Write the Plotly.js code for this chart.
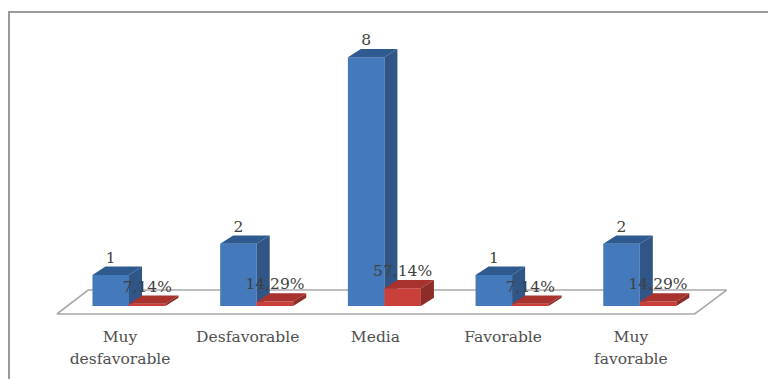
<!DOCTYPE html>
<html>
<head>
<meta charset="utf-8">
<script src="https://cdn.plot.ly/plotly-3.0.1.min.js"></script>
<style>html,body{margin:0;padding:0;background:#fff}#chart{width:768px;height:379px}</style>
</head>
<body>
<div id="chart"></div>
<script>
// Respondent counts and their share per rating
const labelLine1 = ['Muy', 'Desfavorable', 'Media', 'Favorable', 'Muy'];
const labelLine2 = ['desfavorable', '', '', '', 'favorable'];
const counts = [1, 2, 8, 1, 2];
const shares = [0.0714, 0.1429, 0.5714, 0.0714, 0.1429];
const shareLabels = ['7,14%', '14,29%', '57,14%', '7,14%', '14,29%'];

// Pseudo-3D column look, in axis units
const barWidth = 0.286, depthX = 0.102, depthY = 0.267;
const xRange = [-1.0102, 5.004], yRange = [-2.347, 9.839];
const idx = counts.map((_, i) => i);
const fontFamily = '"DejaVu Serif", serif';

// Parallelogram faces sit on the right side and on top of each column
function sideFace(values, left) {
  const x = [], y = [];
  values.forEach((v, i) => {
    const r = i + left + barWidth;
    x.push(r, r + depthX, r + depthX, r, r, null);
    y.push(0, depthY, v + depthY, v, 0, null);
  });
  return {x, y};
}
function topFace(values, left) {
  const x = [], y = [];
  values.forEach((v, i) => {
    const l = i + left, r = l + barWidth;
    x.push(l, l + depthX, r + depthX, r, l, null);
    y.push(v, v + depthY, v + depthY, v, v, null);
  });
  return {x, y};
}
function face(f, color, axes) {
  return {type: 'scatter', mode: 'lines', x: f.x, y: f.y, fill: 'toself', fillcolor: color,
          line: {width: 0, color: color}, hoverinfo: 'skip', showlegend: false,
          xaxis: axes[0], yaxis: axes[1]};
}
function series(values, left, colors, axes) {
  return [
    {type: 'bar', x: idx, y: values, width: barWidth, offset: left,
     marker: {color: colors[0], line: {width: 0}}, hoverinfo: 'skip', showlegend: false,
     xaxis: axes[0], yaxis: axes[1]},
    face(sideFace(values, left), colors[1], axes),
    face(topFace(values, left), colors[2], axes)
  ];
}
function textTrace(x, y, text, position, color) {
  return {type: 'scatter', mode: 'text', x, y, text, textposition: position, cliponaxis: false,
          textfont: {family: fontFamily, size: 15.5, color}, hoverinfo: 'skip', showlegend: false,
          xaxis: 'x3', yaxis: 'y3'};
}

// Floor outline behind the columns
const floor = {
  type: 'scatter', mode: 'lines', hoverinfo: 'skip', showlegend: false,
  x: [-0.565, -0.32, 4.68, 4.43, -0.565],
  y: [-0.257, 0.514, 0.514, -0.257, -0.257],
  line: {color: '#a9a9a9', width: 1.6}
};

const traces = [
  floor,
  ...series(counts, -barWidth, ['#4479bb', '#2f5687', '#2f5a8f'], ['x2', 'y2']),
  ...series(shares, 0, ['#c9403a', '#8e2c29', '#a8322e'], ['x3', 'y3']),
  textTrace(idx.map(i => i - barWidth / 2), counts.map(v => v + depthY), counts.map(String), 'top center', '#404040'),
  textTrace(idx.map(i => i + barWidth / 2), shares.map(v => v + depthY), shareLabels, 'top center', '#404040'),
  textTrace(idx.map(i => i - 0.07), idx.map(() => -1.03), labelLine1, 'middle center', '#505050'),
  textTrace(idx.map(i => i - 0.07), idx.map(() => -1.74), labelLine2, 'middle center', '#505050')
];

const hidden = {visible: false, fixedrange: true};
const xAxis = extra => Object.assign({range: xRange}, hidden, extra);
const yAxis = extra => Object.assign({range: yRange}, hidden, extra);

Plotly.newPlot('chart', traces, {
  width: 768, height: 379,
  margin: {l: 0, r: 0, t: 0, b: 0},
  paper_bgcolor: '#ffffff', plot_bgcolor: 'rgba(0,0,0,0)',
  barmode: 'overlay', showlegend: false,
  xaxis: xAxis({}), yaxis: yAxis({}),
  xaxis2: xAxis({overlaying: 'x'}), yaxis2: yAxis({overlaying: 'y'}),
  xaxis3: xAxis({overlaying: 'x'}), yaxis3: yAxis({overlaying: 'y'}),
  shapes: [
    {type: 'line', xref: 'paper', yref: 'paper', x0: 8 / 768, x1: 1, y0: 1 - 12 / 379, y1: 1 - 12 / 379,
     line: {color: '#9a9a9a', width: 2}},
    {type: 'line', xref: 'paper', yref: 'paper', x0: 9 / 768, x1: 9 / 768, y0: 0, y1: 1 - 12 / 379,
     line: {color: '#9a9a9a', width: 2}}
  ]
}, {displayModeBar: false, staticPlot: true});
</script>
</body>
</html>
